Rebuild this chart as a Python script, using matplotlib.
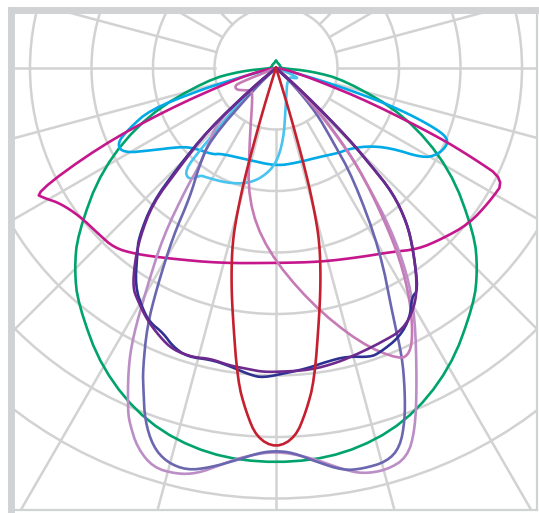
import numpy as np
import matplotlib.pyplot as plt
from matplotlib.patches import Circle

# polar light distribution, angle in degrees from nadir
# (negative = left half / C180, positive = right half / C0)
green_ang = [-180, -150, -110, -90, -85, -80, -70, -60, -50, -45, -40, -30, -20, -10, 0,
             10, 20, 30, 40, 45, 50, 60, 70, 80, 85, 90, 110, 150, 180]
green_val = [7, 5, 5, 3, 35, 70, 137, 201, 259, 285, 308, 348, 378, 393, 396,
             393, 378, 348, 308, 285, 259, 201, 137, 70, 35, 3, 5, 5, 7]

red_ang = [-20, -18, -17, -16, -15, -14, -12, -10, -7, -5, -3, 0, 3, 5, 7, 10, 12, 14, 15, 16, 17, 18, 20]
red_val = [0, 10, 50, 110, 150, 180, 215, 250, 315, 345, 370, 380, 370, 345, 315, 250, 215, 180, 150, 110, 50, 10, 0]

magenta_ang = [-90, -80, -74, -69, -66, -62.5, -60.5, -58, -53, -47, -42, -37, -29, -16, 0,
               13, 24, 32, 38, 44, 51, 58, 64, 65.5, 67, 70, 73, 80, 90]
magenta_val = [0, 15, 45, 117, 193, 272, 265, 255, 246, 243, 242, 233, 218, 203, 195,
               199, 207, 217, 230, 238, 248, 252, 255, 215, 176, 100, 45, 12, 0]

blue_ang = [-80, -76, -73.9, -71.6, -67.7, -64.7, -60.9, -56.3, -50.5, -46, -36, -33, -17.5, 0,
            12.5, 26, 37, 41, 49, 55, 58.5, 61.6, 65.8, 68, 69.4, 71, 72.4, 74, 76, 80]
blue_val = [0, 30, 79, 133, 158, 176, 175, 148, 124, 115, 107, 102, 96, 98,
            97, 99, 106, 108, 119, 139, 172, 183, 188, 184, 168, 139, 106, 60, 20, 0]

cyan_ang = [-60, -52, -50, -47, -44, -42.8, -41.7, -38, -35, -33, -23, -14, -7, 0,
            6, 14, 25, 36, 50, 57, 62, 66, 70, 75]
cyan_val = [0, 5, 30, 50, 76, 112, 137, 142, 131, 130, 125, 119, 110, 96,
            72, 40, 25, 19, 17, 17, 22, 24, 10, 0]

purple_ang = [-52, -50, -47.6, -44, -42.3, -38.8, -35.9, -33.1, -30.9, -27.1, -23.3, -20.1, -16, -12.8,
              -9, -6, -3, 0, 6.4, 11.7, 16.4, 20.7, 25.9, 30.2, 33.3, 37, 40.2, 43.1, 44.3, 45.8, 48, 52]
purple_val = [0, 30, 92, 142, 183, 217, 241, 262, 270, 283, 293, 300, 301, 298,
              301, 302, 304, 304, 304, 301, 297, 294, 291, 276, 257, 228, 203, 171, 135, 100, 40, 0]

indigo_ang = [-52, -50, -47.6, -44.5, -42.5, -39, -36.9, -32.8, -28.8, -26.3, -23.1, -20.3, -17.1, -12.7,
              -9.4, -4.8, -2.4, 2.1, 5.9, 9.8, 13.8, 18, 20, 24.7, 28.3, 30.7, 32.6, 37, 40.2, 43.1,
              44.3, 45.8, 48, 52]
indigo_val = [0, 30, 92, 142, 183, 218, 231, 260, 276, 284, 288, 297, 302, 299,
              301, 308, 310, 305, 302, 298, 297, 304, 303, 296, 283, 266, 264, 228, 203, 171,
              135, 100, 40, 0]

slate_ang = [-50, -46, -42.5, -38, -33.7, -31.4, -28.5, -26.5, -23.8, -22.4, -20.4, -18, -15.5, -12.5,
             -9.4, -5.7, -2.4, 0, 2.5, 5.9, 9.5, 12.2, 15.7, 18.1, 20.1, 21.8, 23.6, 25.2, 29.7,
             35, 38, 42, 46, 50]
slate_val = [0, 30, 98, 125, 155, 198, 249, 289, 330, 348, 376, 398, 409, 412,
             405, 394, 385, 383, 385, 396, 408, 410, 409, 399, 375, 347, 315, 275, 210,
             135, 90, 60, 25, 0]

lavender_ang = [-60, -50, -47, -42, -38, -36.8, -33.8, -30.5, -28, -26.1, -23.4, -22.4, -20.1, -17.1,
                -13.7, -11, -8, -4.8, 0, 5, 9.5, 12.1, 15.4, 18.6, 21, 24.1, 29.2, 32.6, 35.6,
                38, 41, 45, 50, 60]
lavender_val = [0, 40, 80, 100, 125, 149, 203, 254, 305, 336, 373, 384, 404, 418,
                418, 413, 401, 390, 383, 391, 407, 415, 417, 411, 388, 345, 285, 243, 196,
                150, 110, 60, 20, 0]

pink_ang = [-70, -68, -66, -61, -54, -47.5, -40, -31.6, -20, -12, -3, 8.2, 17, 23, 25.2, 27.3,
            30, 32.9, 35.7, 39.5, 42, 45, 50, 60]
pink_val = [0, 40, 45, 45, 38, 33, 37, 46, 77, 135, 182, 237, 288, 317, 315, 298,
            268, 229, 183, 132, 90, 50, 15, 0]

RING = 61.5  # intensity per grid ring

curves = [
    (green_ang, green_val, "#00a36c"),
    (blue_ang, blue_val, "#00aae7"),
    (cyan_ang, cyan_val, "#48c4ef"),
    (magenta_ang, magenta_val, "#c5168c"),
    (lavender_ang, lavender_val, "#bb8ec6"),
    (slate_ang, slate_val, "#6a66b0"),
    (pink_ang, pink_val, "#c77bb6"),
    (indigo_ang, indigo_val, "#2e3192"),
    (purple_ang, purple_val, "#6d2a8e"),
    (red_ang, red_val, "#c4202f"),
]


def to_xy(ang, val):
    a = np.radians(ang)
    v = np.asarray(val, dtype=float)
    return v * np.sin(a), -v * np.cos(a)


def chaikin(x, y, n=2):
    pts = np.column_stack([x, y])
    for _ in range(n):
        p, q = pts[:-1], pts[1:]
        new = np.empty((2 * len(p), 2))
        new[0::2] = 0.75 * p + 0.25 * q
        new[1::2] = 0.25 * p + 0.75 * q
        pts = np.vstack([pts[:1], new, pts[-1:]])
    return pts[:, 0], pts[:, 1]


W, H = 539, 513
fig = plt.figure(figsize=(W / 100, H / 100), dpi=100)
ax = fig.add_axes([10.5 / W, 3 / H, 526.5 / W, 499.5 / H])
ax.set_xlim(-265.5, 261)
ax.set_ylim(-442, 57.5)

grid_c = "#d2d2d2"
for k in range(1, 8):
    ax.add_patch(Circle((0, 0), k * RING, fill=False, ec=grid_c, lw=1.8, zorder=1))
for a in np.radians(np.arange(0, 360, 15)):
    ax.plot([RING * np.sin(a), 900 * np.sin(a)], [-RING * np.cos(a), -900 * np.cos(a)],
            color=grid_c, lw=1.8, zorder=1)

for ang, val, col in curves:
    x, y = to_xy(ang, val)
    x, y = chaikin(x, y, 2)
    ax.plot(x, y, color=col, lw=1.9, solid_joinstyle="round", zorder=3)

ax.set_xticks([])
ax.set_yticks([])
border = "#d1d2d4"
for side in ["left", "top"]:
    ax.spines[side].set_linewidth(5.0)
    ax.spines[side].set_color(border)
for side in ["right", "bottom"]:
    ax.spines[side].set_linewidth(1.6)
    ax.spines[side].set_color(border)

fig.savefig("out.png", dpi=100)
